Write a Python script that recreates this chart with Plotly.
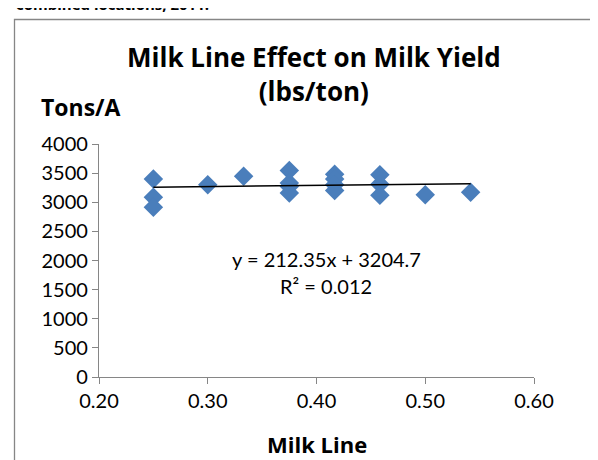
import plotly.graph_objects as go

# Data
milk_line = [0.25, 0.25, 0.25, 0.30, 0.333, 0.375, 0.375, 0.375, 0.375,
             0.4167, 0.4167, 0.4167, 0.4167, 0.4583, 0.4583, 0.4583, 0.50, 0.5417]
milk_yield = [3400, 3085, 2915, 3300, 3445, 3545, 3330, 3270, 3160,
              3480, 3400, 3300, 3200, 3470, 3310, 3120, 3130, 3170]

slope = 212.35
intercept = 3204.7
r_squared = 0.012

x_ticks = [0.20, 0.30, 0.40, 0.50, 0.60]
y_ticks = [0, 500, 1000, 1500, 2000, 2500, 3000, 3500, 4000]

REG = "Lato"
BOLD = "Open Sans"
AXIS_COLOR = "#868686"
MARKER_COLOR = "#4a7ebb"

W, H = 598, 460
L, R, T, B = 91, 72, 136, 91
PW, PH = W - L - R, H - T - B


def px(x):
    return (x - L) / PW


def py(y):
    return (H - B - y) / PH


x_min, x_max = min(milk_line), max(milk_line)
trend_x = [x_min, x_max]
trend_y = [slope * v + intercept for v in trend_x]

fig = go.Figure()
fig.add_trace(go.Scatter(
    x=milk_line, y=milk_yield, mode="markers",
    marker=dict(symbol="diamond", size=15, color=MARKER_COLOR),
    showlegend=False, hoverinfo="x+y"))
fig.add_trace(go.Scatter(
    x=trend_x, y=trend_y, mode="lines",
    line=dict(color="black", width=1.5),
    showlegend=False, hoverinfo="skip"))

fig.update_layout(
    width=W, height=H,
    margin=dict(l=L, r=R, t=T, b=B, pad=0),
    paper_bgcolor="white", plot_bgcolor="white",
    font=dict(family=REG, size=20, color="black"),
    xaxis=dict(range=[0.2, 0.6], tickvals=x_ticks,
               ticktext=[f"{v:.2f}" for v in x_ticks],
               showgrid=False, zeroline=False, showline=True,
               linecolor=AXIS_COLOR, linewidth=1.3,
               ticks="outside", ticklen=6, tickcolor=AXIS_COLOR, tickwidth=1.3,
               tickfont=dict(family=REG, size=20, color="black")),
    yaxis=dict(range=[0, 4000], tickvals=y_ticks,
               showgrid=False, zeroline=False, showline=True,
               linecolor=AXIS_COLOR, linewidth=1.3,
               ticks="outside", ticklen=6, tickcolor=AXIS_COLOR, tickwidth=1.3,
               tickfont=dict(family=REG, size=20, color="black")),
)

ann = []
# Partially clipped caption text at the very top (cut off in the original too)
ann.append(dict(text="<b>combined locations, 2011.</b>", xref="paper", yref="paper",
                x=px(6), y=py(-4), xanchor="left", yanchor="middle",
                showarrow=False, font=dict(family=BOLD, size=15, color="black")))
# Chart title (two lines)
ann.append(dict(text="<b>Milk Line Effect on Milk Yield<br>(lbs/ton)</b>",
                xref="paper", yref="paper", align="center",
                x=px(306), y=py(66), xanchor="center", yanchor="middle",
                showarrow=False, font=dict(family=BOLD, size=26, color="black")))
# Axis titles
ann.append(dict(text="<b>Tons/A</b>", xref="paper", yref="paper",
                x=px(31), y=py(99), xanchor="left", yanchor="middle",
                showarrow=False, font=dict(family=BOLD, size=23, color="black")))
ann.append(dict(text="<b>Milk Line</b>", xref="paper", yref="paper",
                x=px(309), y=py(436), xanchor="center", yanchor="middle",
                showarrow=False, font=dict(family=BOLD, size=22, color="black")))
# Trendline equation
ann.append(dict(text=f"y = {slope}x + {intercept}", xref="paper", yref="paper",
                x=px(318), y=py(251), xanchor="center", yanchor="middle",
                showarrow=False, font=dict(family=REG, size=20, color="black")))
ann.append(dict(text=f"R² = {r_squared}", xref="paper", yref="paper",
                x=px(318), y=py(278), xanchor="center", yanchor="middle",
                showarrow=False, font=dict(family=REG, size=20, color="black")))
fig.update_layout(annotations=ann)

# Outer chart border (only left and top edges visible)
fig.add_shape(type="rect", xref="paper", yref="paper",
              x0=px(6.5), x1=px(640), y0=py(500), y1=py(11.5),
              line=dict(color=AXIS_COLOR, width=1.3), fillcolor="rgba(0,0,0,0)", layer="below")

fig.write_html("out.html")
